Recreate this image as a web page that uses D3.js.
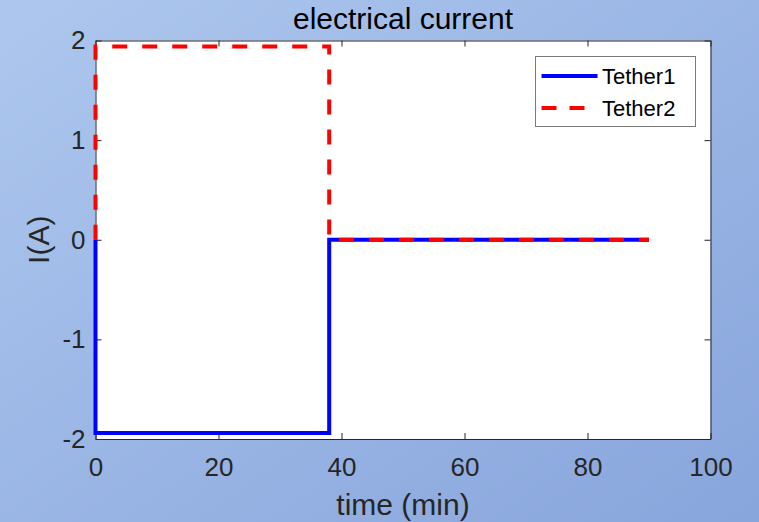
<html>
<head>
<meta charset='utf-8'>
<script src='https://d3js.org/d3.v7.min.js'></script>
<style>
body { margin: 0; }
svg text { font-family: Arial, 'Liberation Sans', Helvetica, sans-serif; }
</style>
</head>
<body>
<svg width=759 height=522></svg>
<script>
// values
const timeMin = [0, 0, 38, 38, 90]
const tether1 = [0, -1.94, -1.94, 0, 0]
const tether2 = [0, 1.94, 1.94, 0, 0]
const seriesNames = ['Tether1', 'Tether2']
const xTicks = [0, 20, 40, 60, 80, 100]
const yTicks = [-2, -1, 0, 1, 2]

const svg = d3.select('svg')
const plotLeft = 95.5, plotRight = 710.5, plotTop = 40.5, plotBottom = 439
const axisColor = '#262626'

// background gradient like the exported figure
const grad = svg.append('defs').append('linearGradient')
	.attr('id', 'bg').attr('x1', '0%').attr('y1', '0%').attr('x2', '100%').attr('y2', '100%')
grad.append('stop').attr('offset', '0%').attr('stop-color', '#adc7ee')
grad.append('stop').attr('offset', '100%').attr('stop-color', '#88a5dc')
svg.append('rect').attr('width', 759).attr('height', 522).attr('fill', 'url(#bg)')

const x = d3.scaleLinear().domain([0, 100]).range([plotLeft, plotRight])
const y = d3.scaleLinear().domain([-2, 2]).range([plotBottom, plotTop])

svg.append('rect')
	.attr('x', plotLeft).attr('y', plotTop)
	.attr('width', plotRight - plotLeft).attr('height', plotBottom - plotTop)
	.attr('fill', 'white')

function styleAxis (g) {
	g.select('.domain').attr('stroke', axisColor)
	g.selectAll('.tick line').attr('stroke', axisColor)
	g.selectAll('.tick text').attr('fill', axisColor).style('font-size', '26px')
		.style('font-family', "Arial, 'Liberation Sans', sans-serif")
}

svg.append('g').attr('transform', `translate(0,${plotBottom})`)
	.call(d3.axisBottom(x).tickValues(xTicks).tickSize(-6).tickSizeOuter(0).tickPadding(18.5))
	.call(styleAxis)
svg.append('g').attr('transform', `translate(0,${plotTop})`)
	.call(d3.axisTop(x).tickValues(xTicks).tickSize(-6).tickSizeOuter(0).tickFormat(''))
	.call(styleAxis)
svg.append('g').attr('transform', `translate(${plotLeft},0)`)
	.call(d3.axisLeft(y).tickValues(yTicks).tickSize(-6).tickSizeOuter(0).tickPadding(10).tickFormat(d3.format('d')))
	.call(styleAxis)
svg.append('g').attr('transform', `translate(${plotRight},0)`)
	.call(d3.axisRight(y).tickValues(yTicks).tickSize(-6).tickSizeOuter(0).tickFormat(''))
	.call(styleAxis)
svg.selectAll('.tick text').text(function () { return this.textContent.replace('\u2212', '-') })

// data lines
const line = d3.line().x(d => x(d[0])).y(d => y(d[1]))
svg.append('path')
	.attr('d', line(d3.zip(timeMin, tether1)))
	.attr('fill', 'none').attr('stroke', '#0000ff').attr('stroke-width', 4)
svg.append('path')
	.attr('d', line(d3.zip(timeMin, tether2)))
	.attr('fill', 'none').attr('stroke', '#ff0000').attr('stroke-width', 4)
	.attr('stroke-dasharray', '15,15')

// title and labels
svg.append('text').attr('x', (plotLeft + plotRight) / 2).attr('y', 28.5)
	.attr('text-anchor', 'middle').style('font-size', '30px').attr('fill', '#000')
	.text('electrical current')
svg.append('text').attr('x', (plotLeft + plotRight) / 2).attr('y', 515)
	.attr('text-anchor', 'middle').style('font-size', '30px').attr('fill', axisColor)
	.text('time (min)')
svg.append('text').attr('transform', `translate(48.5,${y(0)}) rotate(-90)`)
	.attr('text-anchor', 'middle').style('font-size', '30px').attr('fill', axisColor)
	.text('I(A)')

// legend
const legend = svg.append('g')
legend.append('rect')
	.attr('x', 535.5).attr('y', 56.5).attr('width', 160).attr('height', 70)
	.attr('fill', 'white').attr('stroke', '#7a7a7a').attr('stroke-width', 1)
const legendRows = [
	{ name: seriesNames[0], color: '#0000ff', dash: null, cy: 76 },
	{ name: seriesNames[1], color: '#ff0000', dash: '15,13', cy: 108 }
]
legendRows.forEach(r => {
	legend.append('line')
		.attr('x1', 541.5).attr('x2', 597.5).attr('y1', r.cy).attr('y2', r.cy)
		.attr('stroke', r.color).attr('stroke-width', 4)
		.attr('stroke-dasharray', r.dash)
	legend.append('text')
		.attr('x', 602).attr('y', r.cy + 8)
		.style('font-size', '22px').attr('fill', '#000')
		.text(r.name)
})
</script>
</body>
</html>
